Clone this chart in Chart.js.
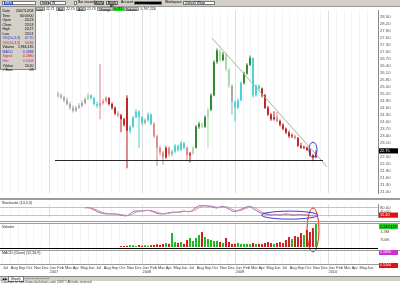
<!DOCTYPE html>
<html>
<head>
<meta charset="utf-8">
<script src="https://cdn.jsdelivr.net/npm/chart.js@4.4.1/dist/chart.umd.min.js"></script>
<style>
html, body { margin:0; padding:0; width:400px; height:283px; overflow:hidden; background:#fff; font-family:"Liberation Sans", Arial, sans-serif; }
canvas { position:absolute; left:0; }
.a { position:absolute; white-space:nowrap; line-height:1; }
#toolbar { position:absolute; left:0; top:0; width:400px; height:6px; background:#d4d0c8; border-bottom:1px solid #9a9a9a; font-size:3.4px; }
#toolbar .box { position:absolute; top:0.8px; height:4px; background:#fff; border:0.5px solid #7a7a7a; box-sizing:border-box; line-height:3.6px; padding-left:1px; }
#toolbar .btn { position:absolute; top:0.6px; height:4.6px; background:#e4e2dc; border:0.5px solid #6a6a6a; box-sizing:border-box; line-height:3.8px; text-align:center; }
#quote { position:absolute; left:34px; top:7px; height:4.4px; font-size:3.4px; line-height:4.4px; display:flex; }
#quote span { padding:0 1.2px; }
#quote .k { background:#c8c8c8; border:0.5px solid #999; box-sizing:border-box; }
#info { position:absolute; left:0; top:6px; width:36px; height:64px; background:#d4d0c8; border:0.5px solid #8a8a8a; box-sizing:border-box; font-size:3.5px; padding-top:2px; }
#info div { display:flex; justify-content:space-between; padding:0 1.5px; height:4.55px; line-height:4.55px; }
.sep { position:absolute; left:0; width:400px; }
.hdr { position:absolute; left:2px; font-size:3.6px; color:#222; }
.tag { position:absolute; left:379px; width:19px; height:5px; font-size:3.6px; line-height:5px; padding-left:1px; box-sizing:border-box; }
#status { position:absolute; left:0; top:275.5px; width:400px; height:4.2px; background:#d4d0c8; border-top:0.5px solid #888; font-size:3.2px; line-height:4.2px; }
#copy { position:absolute; left:1px; top:279.6px; font-size:3px; color:#333; }
</style>
</head>
<body>
<canvas id="price" width="400" height="192" style="top:6px"></canvas>
<canvas id="stoch" width="400" height="22" style="top:200px"></canvas>
<canvas id="macd" width="400" height="26" style="top:249px"></canvas>
<canvas id="volume" width="400" height="56" style="top:200px"></canvas>

<div class="sep" style="top:198px;height:1.5px;background:#9c9c9c"></div>
<div class="sep" style="top:221px;height:0.8px;background:#9c9c9c"></div>
<div class="sep" style="top:223px;height:0.8px;background:#9c9c9c"></div>
<div class="sep" style="top:247.5px;height:1.6px;background:#000;width:378px"></div>
<div class="sep" style="top:249.5px;height:0.6px;background:#9c9c9c"></div>

<div class="hdr" style="top:200.5px">Stochastic (14,3,3)</div>
<div class="hdr" style="top:224.6px">Volume</div>
<div class="hdr" style="top:250.6px">MACD (Close) (12,26,9)</div>

<div class="tag" style="top:250px;background:#cc33cc;color:#fff">0.1800</div>
<div class="tag" style="top:262.6px;background:#dd1111;color:#fff">0.5344</div>

<div id="toolbar">
  <div class="box" style="left:2px;width:34px"><span style="background:#2a5bc4;color:#fff;padding:0 1px">EBS</span></div>
  <div class="box" style="left:40px;width:9px;background:#e4e2dc">Interval</div>
  <div class="box" style="left:50px;width:16px">W</div>
  <div class="box" style="left:74px;width:3px;padding:0"></div>
  <div class="a" style="left:78px;top:1.2px">Bar seconds</div>
  <div class="btn" style="left:94px;width:10px">Apply</div>
  <div class="btn" style="left:106px;width:12px">Apply All</div>
  <div class="a" style="left:121px;top:1.2px">Account</div>
  <div class="box" style="left:134px;width:28px;background:#000;color:#fff">_ . _ . _</div>
  <div class="a" style="left:165px;top:1.2px">Workspace</div>
  <div class="box" style="left:183px;width:32px">Default Wksp</div>
</div>

<div id="quote">
  <span class="k">Last</span><span>22.71</span>
  <span class="k">Bid</span><span>22.70</span>
  <span class="k">Ask</span><span>22.73</span>
  <span class="k">Change</span><span style="background:#22dd22">0.112</span>
  <span class="k">Volume</span><span>5,797,226</span>
</div>

<div id="info">
  <div><span>Date</span><span>2007/12/08</span></div>
  <div><span>Time</span><span>00:00:00</span></div>
  <div><span>Open</span><span>24.23</span></div>
  <div><span>Close</span><span>23.53</span></div>
  <div><span>High</span><span>24.27</span></div>
  <div><span>Low</span><span>23.51</span></div>
  <div style="color:#2233cc"><span>%K(14,3,3)</span><span>47.70</span></div>
  <div style="color:#cc2222"><span>%D(14,3,3)</span><span>50.86</span></div>
  <div><span>Volume</span><span>1,966,135</span></div>
  <div style="color:#2233cc"><span>MACD</span><span>0.2688</span></div>
  <div style="color:#cc2222"><span>Signal</span><span>0.2680</span></div>
  <div style="color:#cc22cc"><span>Hist</span><span>0.0008</span></div>
  <div><span>#Value</span><span>20.20</span></div>
  <div><span># Bars</span><span>09</span></div>
</div>

<div id="status">
  <span style="margin-left:2px">&#9664; &#9654;</span>
  <span style="background:#fff;border:0.5px solid #777;padding:0 2px">Sheet1</span>
  <span style="letter-spacing:0.6px">&lsaquo;&lsaquo;&lsaquo;&lsaquo;&lsaquo;&lsaquo;&lsaquo;&lsaquo;&lsaquo;&lsaquo;&lsaquo;&lsaquo;&lsaquo;&lsaquo;&lsaquo;</span>
</div>
<div id="copy">Copyright (c) http://www.stockcharts.com/ 2009 &copy; All rights reserved</div>

<script>
// months counted from Jan 2007 (0 = Jan 2007)
const monthNames = ['Jan','Feb','Mar','Apr','May','Jun','Jul','Aug','Sep','Oct','Nov','Dec'];
const firstYear = 2007;
const firstMonthTick = -6;   // Jul 2006
const lastMonthTick = 41;    // Jun 2010
const priceTicks = [21.00, 21.30, 21.60, 21.90, 22.20, 22.50, 22.80, 23.10, 23.40, 23.70, 24.00, 24.30,
  24.60, 24.90, 25.20, 25.50, 25.80, 26.10, 26.40, 26.70, 27.00, 27.30, 27.60, 27.90, 28.20, 28.50];
const stochTicks = [40, 80];
const volumeTicks = [700, 1400];

// bars: first bar date and spacing in months
const barStart = 1.1;
const barStep = 0.387;

const opens = [25.20,25.14,25.06,24.93,24.77,24.61,24.48,24.61,24.69,24.81,
  24.98,25.14,25.02,24.77,24.69,24.81,24.89,25.02,24.77,24.61,
  24.36,24.28,24.11,25.02,23.62,23.79,24.20,24.44,24.20,23.95,
  24.07,24.32,23.91,23.38,22.89,22.68,22.48,22.89,22.60,22.72,
  22.97,22.80,23.09,22.89,22.56,22.64,22.89,23.79,23.91,23.79,
  24.20,24.52,25.14,26.57,27.07,26.66,26.90,26.25,25.55,24.85,
  24.61,24.93,25.67,26.08,26.45,26.74,25.14,25.55,25.43,25.14,
  24.61,24.32,24.11,24.20,24.03,23.87,23.70,23.54,23.38,23.38,
  23.30,22.97,22.89,22.89,22.80,22.56,22.48];
const highs = [25.30,25.22,25.12,25.05,24.85,24.70,24.68,24.80,24.92,25.05,
  25.25,25.18,25.08,24.85,26.49,24.98,25.10,25.06,24.84,24.66,
  24.45,24.35,24.18,25.14,23.85,24.25,24.55,24.50,24.25,24.15,
  24.40,24.36,23.98,23.45,22.98,22.75,22.95,22.94,22.80,23.05,
  23.02,23.18,23.14,22.95,22.70,22.95,23.85,24.00,23.96,24.28,
  24.60,25.22,26.65,27.15,27.10,27.00,26.95,26.30,25.60,24.92,
  25.00,25.75,26.15,26.52,26.85,26.78,25.62,25.60,25.48,25.20,
  24.68,24.38,24.45,24.42,24.10,23.94,23.76,23.62,23.50,23.45,
  23.35,23.10,22.98,22.94,22.85,22.62,22.78];
const lows = [25.05,24.98,24.85,24.70,24.52,24.40,24.42,24.55,24.62,24.75,
  24.92,24.95,24.70,24.60,24.11,24.75,24.82,24.70,24.52,24.28,
  24.20,23.55,23.80,22.00,23.50,23.72,24.15,22.89,23.85,23.88,
  24.00,23.85,23.30,22.10,22.55,22.15,22.40,22.50,22.52,22.65,
  22.72,22.75,22.82,22.30,22.25,22.58,22.85,23.70,23.72,23.74,
  22.89,24.45,25.10,26.50,26.58,26.60,26.18,25.45,24.30,24.00,
  24.55,24.88,25.60,26.02,26.40,25.05,25.08,25.35,25.05,24.55,
  24.25,24.05,24.06,23.98,23.80,23.64,23.48,23.32,23.30,23.24,
  22.92,22.84,22.82,22.74,22.50,22.30,22.44];
const closes = [25.14,25.06,24.93,24.77,24.61,24.48,24.61,24.69,24.81,24.98,
  25.14,25.02,24.77,24.69,24.81,24.89,25.02,24.77,24.61,24.36,
  24.28,24.11,23.87,23.62,23.79,24.20,24.44,24.20,23.95,24.07,
  24.32,23.91,23.38,22.89,22.68,22.48,22.89,22.60,22.72,22.97,
  22.80,23.09,22.89,22.56,22.64,22.89,23.79,23.91,23.79,24.20,
  24.52,25.14,26.57,27.07,26.66,26.90,26.25,25.55,24.85,24.61,
  24.93,25.67,26.08,26.45,26.74,25.14,25.55,25.43,25.14,24.61,
  24.32,24.11,24.20,24.03,23.87,23.70,23.54,23.38,23.38,23.30,
  22.97,22.89,22.89,22.80,22.56,22.48,22.68];
// bar state as painted by the platform: w neutral, l weak up, g strong up, c pullback, p weak down, r strong down
const barState = 'wwwwwwwwwwlcccppprrrprrrcccccwccpppprpwccccprlgglglggglgllwcccgggcccrrrrrprrrrrprrrrrrr';

// volume in thousands (no volume history before the 22nd bar)
const volumeK = [null,null,null,null,null,null,null,null,null,null,
  null,null,null,null,null,null,null,null,null,null,null,
  90,100,110,180,170,100,190,120,160,110,
  170,190,260,200,280,370,300,1310,460,380,
  470,290,650,840,560,850,1120,1400,930,750,
  660,560,580,470,380,840,470,290,300,380,
  280,290,300,270,380,290,300,270,380,460,
  370,290,380,460,370,650,930,750,1030,930,
  1310,1120,1590,1400,1770,2240];

const stochK = [null,null,null,null,null,null,null,null,null,
  75,80,70,60,45,35,30,25,25,25,25,20,15,10,10,25,45,50,50,50,55,55,50,40,30,25,25,30,35,40,40,40,
  45,50,45,45,60,80,95,95,95,90,90,80,75,85,90,80,65,50,45,55,65,75,85,90,70,55,40,30,25,20,15,20,
  20,15,20,25,20,15,15,20,20,15,15,10,10,15];
const stochD = [null,null,null,null,null,null,null,null,null,
  78,77,75,68,58,47,37,30,27,25,25,23,20,15,12,15,27,40,48,50,52,55,53,48,40,32,27,27,30,35,38,40,
  42,45,47,47,50,62,78,90,95,93,92,87,82,80,83,85,78,65,53,50,55,65,75,83,82,72,55,42,32,25,20,18,
  18,18,18,20,22,20,17,17,18,18,17,13,12,12];

const lastPrice = 22.75;
const supportPrice = 22.35;
const supportSpan = [0.71, 35.3];
const trendFrom = [20.97, 27.60];
const trendTo = [35.8, 22.07];
const priceCircle = [34.0, 22.80];
const stochCircle = [31.0, 15];
const volumeCircle = [34.0, 1590];
const stochLast = '15.40';
const volumeLast = '2,243,119';

const stateColors = { w:'#a6a6a6', l:'#a6dba6', g:'#2a852a', c:'#48d0d0', p:'#d88888', r:'#c01c1c' };
const X_MIN = -49.5 / 7.75;
const X_MAX = X_MIN + 378 / 7.75;
const AXIS_W = 22;
const FONT = '"Liberation Sans", Arial, sans-serif';

Chart.defaults.font.family = FONT;
Chart.defaults.color = '#444';

const barX = i => barStart + i * barStep;
const barColors = closes.map((c, i) => stateColors[barState[i]]);
const volColors = closes.map((c, i) => c >= opens[i] ? '#22b822' : '#cc2020');
const monthTicks = [];
for (let m = firstMonthTick; m <= lastMonthTick; m++) monthTicks.push(m);

const common = {
    responsive: false,
    animation: false,
    events: [],
    devicePixelRatio: 1,
    plugins: { legend: { display: false }, tooltip: { enabled: false } }
};

function gridX() {
    return {
        type: 'linear', min: X_MIN, max: X_MAX, offset: false,
        afterBuildTicks: a => { a.ticks = monthTicks.map(v => ({ value: v })); },
        afterFit: a => { a.height = 0; },
        ticks: { display: false },
        grid: { drawTicks: false, offset: false, lineWidth: 1,
            color: c => (c.tick && c.tick.value % 12 === 0) ? '#dedede' : '#f4f4f4' },
        border: { display: false }
    };
}

function rightAxis(extra) {
    return Object.assign({
        position: 'right', beginAtZero: false,
        afterFit: a => { a.width = AXIS_W; },
        grid: { display: false, drawTicks: false },
        border: { display: true, color: '#8a8a8a' }
    }, extra);
}

function tag(ctx, area, py, bg, fg, text) {
    ctx.fillStyle = bg;
    ctx.fillRect(area.right + 1, py - 2.6, 19, 5.2);
    ctx.fillStyle = fg;
    ctx.font = '3.8px ' + FONT;
    ctx.textBaseline = 'middle';
    ctx.fillText(text, area.right + 2, py + 0.2);
}

// 价格图
const priceOverlay = {
    id: 'priceOverlay',
    afterDatasetsDraw(chart) {
        const { ctx, chartArea: area, scales: { x, y } } = chart;
        ctx.save();
        ctx.beginPath();
        ctx.rect(area.left, area.top, area.right - area.left, area.bottom - area.top);
        ctx.clip();
        ctx.lineWidth = 1;
        ctx.strokeStyle = '#a7b29a';
        ctx.beginPath();
        ctx.moveTo(x.getPixelForValue(trendFrom[0]), y.getPixelForValue(trendFrom[1]));
        ctx.lineTo(x.getPixelForValue(trendTo[0]), y.getPixelForValue(trendTo[1]));
        ctx.stroke();
        const sy = Math.round(y.getPixelForValue(supportPrice)) + 0.5;
        ctx.strokeStyle = '#2a2a2a';
        ctx.beginPath();
        ctx.moveTo(x.getPixelForValue(supportSpan[0]), sy);
        ctx.lineTo(x.getPixelForValue(supportSpan[1]), sy);
        ctx.stroke();
        ctx.strokeStyle = '#3340c8';
        ctx.beginPath();
        ctx.ellipse(x.getPixelForValue(priceCircle[0]), y.getPixelForValue(priceCircle[1]), 4, 7.5, 0, 0, Math.PI * 2);
        ctx.stroke();
        ctx.restore();
    },
    afterDraw(chart) {
        const { ctx, chartArea: area, scales: { y } } = chart;
        ctx.save();
        tag(ctx, area, y.getPixelForValue(lastPrice), '#000', '#fff', lastPrice.toFixed(2));
        ctx.restore();
    }
};

new Chart(document.getElementById('price'), {
    type: 'bar',
    data: {
        datasets: [
            { data: lows.map((l, i) => ({ x: barX(i), y: [l, highs[i]] })), backgroundColor: barColors,
              barThickness: 1, inflateAmount: 0, grouped: false, order: 2 },
            { data: opens.map((o, i) => ({ x: barX(i), y: [o, closes[i]] })), backgroundColor: barColors,
              barThickness: 1.8, inflateAmount: 0, grouped: false, minBarLength: 1, order: 1 }
        ]
    },
    options: Object.assign({}, common, {
        scales: {
            x: gridX(),
            y: rightAxis({
                type: 'linear', min: 28.5 - 185 / 24.4, max: 28.5 + 7 / 24.4,
                afterBuildTicks: a => { a.ticks = priceTicks.map(v => ({ value: v })); },
                ticks: { autoSkip: false, padding: 2, color: '#505050', font: { size: 4.2 }, callback: v => v.toFixed(2) }
            })
        }
    }),
    plugins: [priceOverlay]
});

// 随机指标
const stochOverlay = {
    id: 'stochOverlay',
    beforeDatasetsDraw(chart) {
        const { ctx, chartArea: area, scales: { y } } = chart;
        ctx.save();
        ctx.strokeStyle = '#b4b4b4';
        ctx.lineWidth = 0.8;
        [20, 80].forEach(v => {
            const py = Math.round(y.getPixelForValue(v)) + 0.5;
            ctx.beginPath(); ctx.moveTo(area.left, py); ctx.lineTo(area.right, py); ctx.stroke();
        });
        ctx.restore();
    },
    afterDraw(chart) {
        const { ctx, chartArea: area, scales: { x, y } } = chart;
        ctx.save();
        ctx.strokeStyle = '#3340c8';
        ctx.lineWidth = 1;
        ctx.beginPath();
        ctx.ellipse(x.getPixelForValue(stochCircle[0]), y.getPixelForValue(stochCircle[1]), 28, 4, 0, 0, Math.PI * 2);
        ctx.stroke();
        tag(ctx, area, y.getPixelForValue(15), '#dd1111', '#fff', stochLast);
        ctx.restore();
    }
};

new Chart(document.getElementById('stoch'), {
    type: 'line',
    data: {
        datasets: [
            { data: stochD.map((v, i) => ({ x: barX(i), y: v })), borderColor: '#d08aa8', borderWidth: 0.9, pointRadius: 0, tension: 0.35 },
            { data: stochK.map((v, i) => ({ x: barX(i), y: v })), borderColor: '#8a6ab0', borderWidth: 0.9, pointRadius: 0, tension: 0.35 }
        ]
    },
    options: Object.assign({}, common, {
        scales: {
            x: gridX(),
            y: rightAxis({
                type: 'linear', min: -5, max: 105,
                afterBuildTicks: a => { a.ticks = stochTicks.map(v => ({ value: v })); },
                ticks: { autoSkip: false, padding: 2, color: '#505050', font: { size: 4.2 }, callback: v => v.toFixed(2) }
            })
        }
    }),
    plugins: [stochOverlay]
});

// 成交量
const volumeOverlay = {
    id: 'volumeOverlay',
    afterDraw(chart) {
        const { ctx, chartArea: area, scales: { x, y } } = chart;
        ctx.save();
        tag(ctx, area, area.top + 2.6, '#22cc22', '#000', volumeLast);
        ctx.strokeStyle = '#e02222';
        ctx.lineWidth = 1;
        ctx.beginPath();
        ctx.ellipse(x.getPixelForValue(volumeCircle[0]), y.getPixelForValue(volumeCircle[1]), 6, 22, 0, 0, Math.PI * 2);
        ctx.stroke();
        ctx.restore();
    }
};

new Chart(document.getElementById('volume'), {
    type: 'bar',
    data: {
        datasets: [
            { data: volumeK.map((v, i) => ({ x: barX(i), y: v })), backgroundColor: volColors,
              barThickness: 2, inflateAmount: 0, grouped: false }
        ]
    },
    options: Object.assign({}, common, {
        layout: { padding: { top: 24, bottom: 9 } },
        scales: {
            x: gridX(),
            y: rightAxis({
                type: 'linear', min: 0, max: 2150,
                afterBuildTicks: a => { a.ticks = volumeTicks.map(v => ({ value: v })); },
                border: { display: false },
                ticks: { autoSkip: false, padding: 2, color: '#505050', font: { size: 4.2 },
                    callback: v => v >= 1000 ? (v / 1000).toFixed(1) + 'M' : v + 'K' }
            })
        }
    }),
    plugins: [volumeOverlay]
});

// MACD 面板（没有线）+ 日期轴
new Chart(document.getElementById('macd'), {
    type: 'line',
    data: { datasets: [{ data: [{ x: X_MIN, y: null }], pointRadius: 0 }] },
    options: Object.assign({}, common, {
        layout: { padding: { right: AXIS_W } },
        scales: {
            x: {
                type: 'linear', min: X_MIN, max: X_MAX, offset: false, position: 'bottom',
                afterBuildTicks: a => { a.ticks = monthTicks.map(v => ({ value: v })); },
                grid: { drawTicks: false, offset: false,
                    color: c => (c.tick && c.tick.value % 12 === 0) ? '#dedede' : '#f4f4f4' },
                border: { display: true, color: '#9a9a9a' },
                ticks: {
                    autoSkip: false, maxRotation: 0, align: 'start', padding: 1, color: '#3a3a3a',
                    font: { size: 3.9, lineHeight: 1.05 },
                    callback: v => {
                        const k = ((v % 12) + 12) % 12;
                        return k === 0 ? [monthNames[k], String(firstYear + Math.floor(v / 12))] : monthNames[k];
                    }
                }
            },
            y: { display: false, min: 0, max: 1 }
        }
    })
});
</script>
</body>
</html>
